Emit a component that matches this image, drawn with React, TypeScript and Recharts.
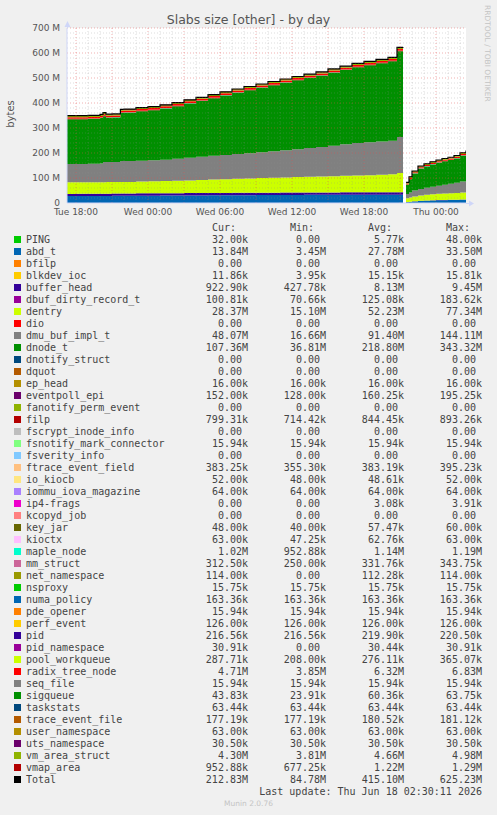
import React from "react";
import {
  ComposedChart,
  Area,
  Line,
  XAxis,
  YAxis,
  CartesianGrid,
  ReferenceLine,
} from "recharts";

// time axis: hours since Tue 00:00 (gap after the spike)
const hours = [
  17.25, 18, 19, 20, 20.25, 20.5, 21, 21.7, 22, 23, 24, 25, 26, 27, 28, 29, 30,
  31, 32, 33, 34, 35, 36, 37, 38, 39, 40, 41, 42, 43, 44, 44.75, 45.25, 45.3,
  45.5, 45.75, 46, 46.5, 47, 47.5, 48, 48.5, 49, 49.5, 50, 50.5,
];

const tickHours = [18, 24, 30, 36, 42, 48];
const tickLabels = ["Tue 18:00", "Wed 00:00", "Wed 06:00", "Wed 12:00", "Wed 18:00", "Thu 00:00"];
const yTicks = [0, 100, 200, 300, 400, 500, 600, 700];

// values in M bytes
const abdT = [
  28, 28, 28, 28.5, 28.5, 28.5, 29, 29, 29, 29.5, 29.5, 30, 30, 30.5, 30.5, 31,
  31, 31.5, 31.5, 32, 32, 32.5, 32.5, 33, 33, 33, 33.5, 33.5, 33.5, 33.5, 33.5,
  33.5, 33.5, null, 3.5, 5, 6.5, 8, 9, 10, 11, 11.5, 12, 12.5, 13.2, 13.84,
];
const bufferHead = [
  8.5, 8.6, 8.7, 8.8, 8.8, 8.8, 8.9, 9.0, 9.0, 9.1, 9.1, 9.2, 9.2, 9.2, 9.3,
  9.3, 9.3, 9.4, 9.4, 9.4, 9.45, 9.45, 9.4, 9.4, 9.4, 9.4, 9.4, 9.4, 9.4, 9.4,
  9.4, 9.4, 9.4, null, 0.43, 0.5, 0.55, 0.6, 0.65, 0.7, 0.75, 0.8, 0.85, 0.88,
  0.9, 0.92,
];
const dentry = [
  46.5, 46.5, 46.3, 45.7, 45.7, 46.7, 46.1, 46, 46.5, 47.4, 48.4, 48.8, 49.8,
  50.3, 52.2, 53.7, 54.7, 56.1, 57.6, 58.6, 59.5, 60, 62.1, 62.6, 63.6, 65.1,
  66.1, 67.1, 68.6, 70.1, 72.1, 77.1, 77.3, null, 15.1, 17, 19, 21, 23, 24, 25,
  26, 26.5, 27, 27.8, 28.37,
];
const dmuBuf = [
  73, 73, 74, 75, 81, 80, 80, 84, 83.5, 83, 84, 85, 88, 91, 93, 95, 97, 99,
  100.5, 103, 106, 109, 111, 115, 118, 121.5, 126, 130, 131.5, 133, 134, 144.1,
  144.1, null, 16.66, 20, 24, 26, 28, 30, 32, 35, 38, 41, 44, 48.07,
];
const dnodeT = [
  179, 179, 179, 182, 183, 177, 178, 192, 193, 198, 200, 205, 210, 217, 223,
  230, 238, 245, 252, 258, 264, 270, 276, 280, 285, 292, 297, 303, 308, 313,
  318, 343, 343.3, null, 37, 52.3, 67.6, 81.8, 85.6, 89.3, 92.1, 93.5, 94.3,
  97.1, 103.5, 107.36,
];
const filp = [
  0.84, 0.84, 0.85, 0.85, 0.85, 0.85, 0.86, 0.86, 0.86, 0.86, 0.87, 0.87, 0.87,
  0.87, 0.88, 0.88, 0.88, 0.88, 0.88, 0.89, 0.89, 0.89, 0.89, 0.89, 0.89, 0.89,
  0.89, 0.89, 0.89, 0.89, 0.89, 0.89, 0.89, null, 0.71, 0.72, 0.73, 0.74, 0.75,
  0.76, 0.77, 0.78, 0.78, 0.79, 0.8, 0.8,
];
const mapleNode = [
  1.15, 1.15, 1.15, 1.16, 1.16, 1.16, 1.16, 1.17, 1.17, 1.17, 1.17, 1.17, 1.18,
  1.18, 1.18, 1.18, 1.18, 1.18, 1.19, 1.19, 1.19, 1.19, 1.19, 1.19, 1.19, 1.19,
  1.19, 1.19, 1.19, 1.19, 1.19, 1.19, 1.19, null, 0.95, 0.96, 0.97, 0.97, 0.98,
  0.99, 0.99, 1.0, 1.0, 1.01, 1.01, 1.02,
];
const radixTree = [
  6.3, 6.3, 6.35, 6.4, 6.4, 6.4, 6.45, 6.5, 6.5, 6.5, 6.55, 6.55, 6.6, 6.6, 6.6,
  6.65, 6.65, 6.7, 6.7, 6.7, 6.75, 6.75, 6.75, 6.8, 6.8, 6.8, 6.8, 6.8, 6.83,
  6.83, 6.83, 6.83, 6.83, null, 3.85, 3.9, 4.0, 4.1, 4.2, 4.3, 4.4, 4.45, 4.5,
  4.6, 4.65, 4.71,
];
const vmAreaStruct = [
  4.7, 4.7, 4.72, 4.74, 4.74, 4.74, 4.76, 4.78, 4.78, 4.8, 4.82, 4.84, 4.85,
  4.86, 4.88, 4.9, 4.9, 4.92, 4.93, 4.94, 4.95, 4.95, 4.96, 4.96, 4.97, 4.97,
  4.97, 4.98, 4.98, 4.98, 4.98, 4.98, 4.98, null, 3.81, 3.86, 3.9, 3.95, 4.0,
  4.05, 4.1, 4.15, 4.2, 4.24, 4.27, 4.3,
];
const vmapArea = [
  1.22, 1.22, 1.22, 1.23, 1.23, 1.23, 1.23, 1.24, 1.24, 1.24, 1.25, 1.25, 1.25,
  1.26, 1.26, 1.26, 1.27, 1.27, 1.27, 1.27, 1.28, 1.28, 1.28, 1.28, 1.28, 1.29,
  1.29, 1.29, 1.29, 1.29, 1.29, 1.29, 1.29, null, 0.68, 0.71, 0.74, 0.77, 0.8,
  0.83, 0.86, 0.88, 0.9, 0.92, 0.94, 0.95,
];

// legend table (Munin order)
const names = [
  "PING", "abd_t", "bfilp", "blkdev_ioc", "buffer_head", "dbuf_dirty_record_t",
  "dentry", "dio", "dmu_buf_impl_t", "dnode_t", "dnotify_struct", "dquot",
  "ep_head", "eventpoll_epi", "fanotify_perm_event", "filp", "fscrypt_inode_info",
  "fsnotify_mark_connector", "fsverity_info", "ftrace_event_field", "io_kiocb",
  "iommu_iova_magazine", "ip4-frags", "kcopyd_job", "key_jar", "kioctx",
  "maple_node", "mm_struct", "net_namespace", "nsproxy", "numa_policy",
  "pde_opener", "perf_event", "pid", "pid_namespace", "pool_workqueue",
  "radix_tree_node", "seq_file", "sigqueue", "taskstats", "trace_event_file",
  "user_namespace", "uts_namespace", "vm_area_struct", "vmap_area", "Total",
];
const palette = [
  "#00CC00", "#0066B3", "#FF8000", "#FFCC00", "#330099", "#990099", "#CCFF00",
  "#FF0000", "#808080", "#008F00", "#00487D", "#B35A00", "#B38F00", "#6B006B",
  "#8FB300", "#B30000", "#BEBEBE", "#80FF80", "#80C9FF", "#FFC080", "#FFE680",
  "#AA80FF", "#EE00CC", "#FF8080", "#666600", "#FFBFFF", "#00FFCC", "#CC6699",
  "#999900",
];
const curVals = [
  "32.00k", "13.84M", "0.00", "11.86k", "922.90k", "100.81k", "28.37M", "0.00",
  "48.07M", "107.36M", "0.00", "0.00", "16.00k", "152.00k", "0.00", "799.31k",
  "0.00", "15.94k", "0.00", "383.25k", "52.00k", "64.00k", "0.00", "0.00",
  "48.00k", "63.00k", "1.02M", "312.50k", "114.00k", "15.75k", "163.36k",
  "15.94k", "126.00k", "216.56k", "30.91k", "287.71k", "4.71M", "15.94k",
  "43.83k", "63.44k", "177.19k", "63.00k", "30.50k", "4.30M", "952.88k", "212.83M",
];
const minVals = [
  "0.00", "3.45M", "0.00", "3.95k", "427.78k", "70.66k", "15.10M", "0.00",
  "16.66M", "36.81M", "0.00", "0.00", "16.00k", "128.00k", "0.00", "714.42k",
  "0.00", "15.94k", "0.00", "355.30k", "48.00k", "64.00k", "0.00", "0.00",
  "40.00k", "47.25k", "952.88k", "250.00k", "0.00", "15.75k", "163.36k",
  "15.94k", "126.00k", "216.56k", "0.00", "208.00k", "3.85M", "15.94k",
  "23.91k", "63.44k", "177.19k", "63.00k", "30.50k", "3.81M", "677.25k", "84.78M",
];
const avgVals = [
  "5.77k", "27.78M", "0.00", "15.15k", "8.13M", "125.08k", "52.23M", "0.00",
  "91.40M", "218.80M", "0.00", "0.00", "16.00k", "160.25k", "0.00", "844.45k",
  "0.00", "15.94k", "0.00", "383.19k", "48.61k", "64.00k", "3.08k", "0.00",
  "57.47k", "62.76k", "1.14M", "331.76k", "112.28k", "15.75k", "163.36k",
  "15.94k", "126.00k", "219.90k", "30.44k", "276.11k", "6.32M", "15.94k",
  "60.36k", "63.44k", "180.52k", "63.00k", "30.50k", "4.66M", "1.22M", "415.10M",
];
const maxVals = [
  "48.00k", "33.50M", "0.00", "15.81k", "9.45M", "183.62k", "77.34M", "0.00",
  "144.11M", "343.32M", "0.00", "0.00", "16.00k", "195.25k", "0.00", "893.26k",
  "0.00", "15.94k", "0.00", "395.23k", "52.00k", "64.00k", "3.91k", "0.00",
  "60.00k", "63.00k", "1.19M", "343.75k", "114.00k", "15.75k", "163.36k",
  "15.94k", "126.00k", "220.50k", "30.91k", "365.07k", "6.83M", "15.94k",
  "63.75k", "63.44k", "181.12k", "63.00k", "30.50k", "4.98M", "1.29M", "625.23M",
];

const colorOf = (name: string) =>
  name === "Total" ? "#000000" : palette[names.indexOf(name) % palette.length];

const stack = [
  { key: "abd_t", values: abdT },
  { key: "buffer_head", values: bufferHead },
  { key: "dentry", values: dentry },
  { key: "dmu_buf_impl_t", values: dmuBuf },
  { key: "dnode_t", values: dnodeT },
  { key: "filp", values: filp },
  { key: "maple_node", values: mapleNode },
  { key: "radix_tree_node", values: radixTree },
  { key: "vm_area_struct", values: vmAreaStruct },
  { key: "vmap_area", values: vmapArea },
];

const data = hours.map((t, i) => {
  const row: Record<string, number | null> = { t };
  let sum: number | null = 0;
  for (const s of stack) {
    const v = s.values[i];
    row[s.key] = v;
    if (v == null) sum = null;
    else if (sum != null) sum += v;
  }
  row.total = sum;
  return row;
});

// grid positions
const minorY: number[] = [];
for (let v = 20; v < 700; v += 20) if (v % 100 !== 0) minorY.push(v);
const majorY = [100, 200, 300, 400, 500, 600, 700];
const minorX: number[] = [];
const majorX: number[] = [];
for (let h = 18; h <= 50; h++) (h % 3 === 0 ? majorX : minorX).push(h);

const AXIS = "#CFD6F8";
const FONT = "DejaVu Sans, sans-serif";
const MONO = "DejaVu Sans Mono, monospace";
const COLS = [248, 326, 404, 482];
const HEADERS = ["Cur:", "Min:", "Avg:", "Max:"];

const pad = (v: string) => (/\d$/.test(v) ? v + " " : v);

function LegendRow({ i }: { i: number }) {
  const top = 233.5 + 12 * i;
  const vals = [curVals[i], minVals[i], avgVals[i], maxVals[i]];
  return (
    <div style={{ position: "absolute", left: 0, top, width: 497, height: 12, lineHeight: "12px" }}>
      <div
        style={{
          position: "absolute",
          left: 14,
          top: 2.5,
          width: 7,
          height: 7,
          background: colorOf(names[i]),
        }}
      />
      <span style={{ position: "absolute", left: 26, whiteSpace: "pre" }}>{names[i]}</span>
      {vals.map((v, k) => (
        <span
          key={k}
          style={{ position: "absolute", right: 497 - COLS[k], whiteSpace: "pre" }}
        >
          {pad(v)}
        </span>
      ))}
    </div>
  );
}

export default function App() {
  return (
    <div
      style={{
        position: "absolute",
        left: 0,
        top: 0,
        width: 497,
        height: 815,
        background: "#f0f0f0",
        overflow: "hidden",
      }}
    >
      <ComposedChart
        width={497}
        height={230}
        data={data}
        margin={{ top: 28, right: 31, bottom: 0, left: 0 }}
      >
        <CartesianGrid horizontal={false} vertical={false} fill="#ffffff" stroke="none" />
        <XAxis
          dataKey="t"
          type="number"
          domain={[17.25, 50.5]}
          allowDataOverflow
          ticks={tickHours}
          interval={0}
          tickFormatter={(v: number) => tickLabels[tickHours.indexOf(v)]}
          height={27}
          tickLine={false}
          tickSize={0}
          tickMargin={6}
          axisLine={{ stroke: AXIS }}
          tick={{ fill: "#555", fontSize: 9, fontFamily: FONT }}
        />
        <YAxis
          type="number"
          domain={[0, 700]}
          allowDataOverflow
          ticks={yTicks}
          interval={0}
          tickFormatter={(v: number) => (v === 0 ? "0" : `${v} M`)}
          width={67}
          tickLine={false}
          tickSize={0}
          tickMargin={7}
          axisLine={{ stroke: AXIS }}
          tick={{ fill: "#555", fontSize: 9, fontFamily: FONT }}
        />
        {stack.map((s) => (
          <Area
            key={s.key}
            dataKey={s.key}
            stackId="slabs"
            type="stepAfter"
            fill={colorOf(s.key)}
            fillOpacity={1}
            stroke="none"
            connectNulls={false}
            dot={false}
            activeDot={false}
            isAnimationActive={false}
          />
        ))}
        <Line
          dataKey="total"
          type="stepAfter"
          stroke="#000000"
          strokeWidth={1.2}
          dot={false}
          activeDot={false}
          connectNulls={false}
          isAnimationActive={false}
        />
        {minorY.map((v) => (
          <ReferenceLine key={`my${v}`} y={v} stroke="#909090" strokeOpacity={0.3} strokeDasharray="1 2" strokeWidth={1} />
        ))}
        {minorX.map((v) => (
          <ReferenceLine key={`mx${v}`} x={v} stroke="#909090" strokeOpacity={0.3} strokeDasharray="1 2" strokeWidth={1} />
        ))}
        {majorY.map((v) => (
          <ReferenceLine key={`My${v}`} y={v} stroke="#e05050" strokeOpacity={0.45} strokeDasharray="1 2" strokeWidth={1} />
        ))}
        {majorX.map((v) => (
          <ReferenceLine key={`Mx${v}`} x={v} stroke="#e05050" strokeOpacity={0.45} strokeDasharray="1 2" strokeWidth={1} />
        ))}
      </ComposedChart>

      <svg
        width={497}
        height={230}
        style={{ position: "absolute", left: 0, top: 0, pointerEvents: "none" }}
      >
        <text x={248.5} y={24} textAnchor="middle" fontFamily={FONT} fontSize={12.5} fill="#555">
          Slabs size [other] - by day
        </text>
        <text
          x={14}
          y={114}
          textAnchor="middle"
          fontFamily={FONT}
          fontSize={10}
          fill="#555"
          transform="rotate(-90 14 114)"
        >
          bytes
        </text>
        <text
          x={5}
          y={-484.5}
          fontFamily={FONT}
          fontSize={7.5}
          fill="#c4c4c4"
          transform="rotate(90)"
        >
          RRDTOOL / TOBI OETIKER
        </text>
        <line x1={67.5} y1={28} x2={67.5} y2={23} stroke={AXIS} />
        <polygon points="64.5,27 70.5,27 67.5,21" fill={AXIS} />
        <line x1={466} y1={203.5} x2={470} y2={203.5} stroke={AXIS} />
        <polygon points="469,200.5 469,206.5 474,203.5" fill={AXIS} />
      </svg>

      <div style={{ position: "absolute", left: 0, top: 0, width: 497, fontFamily: MONO, fontSize: 10, color: "#444" }}>
        {HEADERS.map((h, k) => (
          <span
            key={h}
            style={{ position: "absolute", left: COLS[k] - 36, top: 221.5, lineHeight: "12px", whiteSpace: "pre" }}
          >
            {h}
          </span>
        ))}
        {names.map((n, i) => (
          <LegendRow key={n} i={i} />
        ))}
        <span
          style={{ position: "absolute", right: 497 - 482, top: 785.8, lineHeight: "12px", whiteSpace: "pre" }}
        >
          Last update: Thu Jun 18 02:30:11 2026
        </span>
      </div>
      <div
        style={{
          position: "absolute",
          left: 0,
          width: 497,
          top: 799,
          textAlign: "center",
          fontFamily: FONT,
          fontSize: 7.5,
          lineHeight: "10px",
          color: "#c4c4c4",
        }}
      >
        Munin 2.0.76
      </div>
    </div>
  );
}
